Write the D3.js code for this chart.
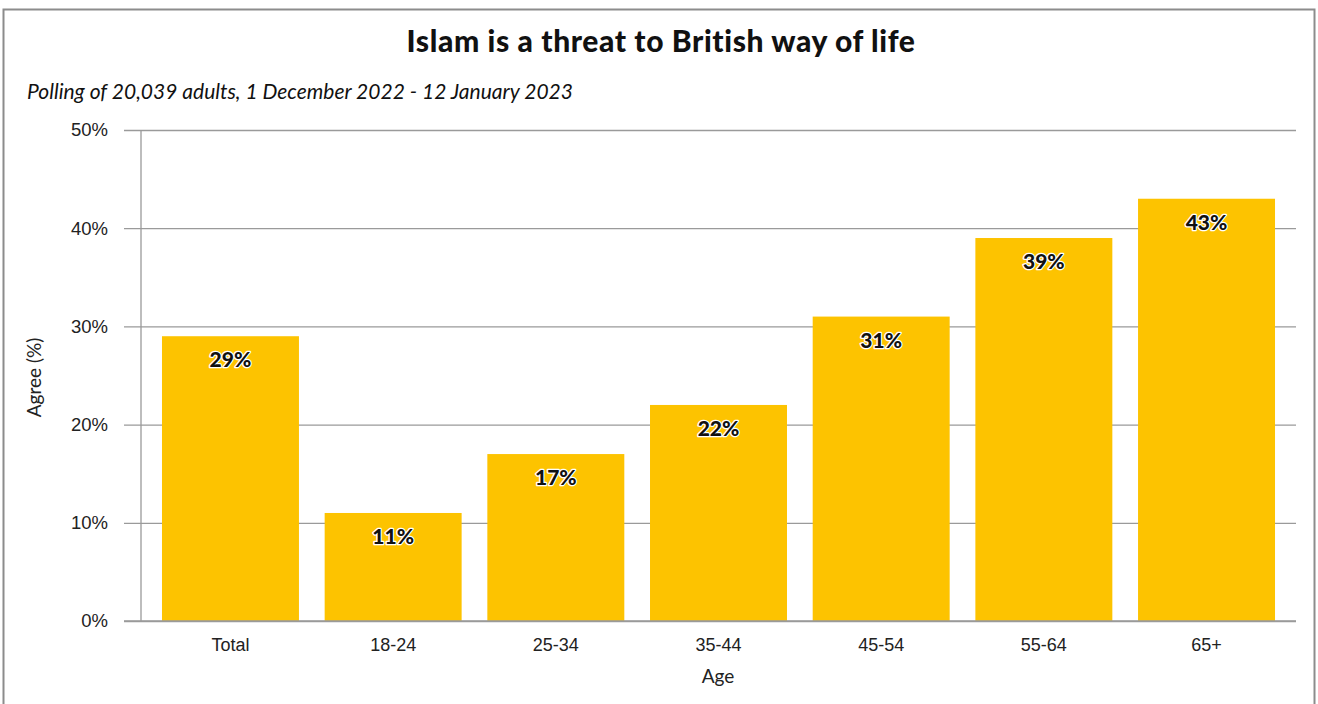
<!DOCTYPE html>
<html>
<head>
<meta charset="utf-8">
<script src="https://cdn.jsdelivr.net/npm/d3@7"></script>
<style>
  html, body { margin: 0; padding: 0; background: #fff; }
  svg { display: block; font-family: "Lato", "Noto Sans", sans-serif; }
</style>
</head>
<body>
<svg id="chart" width="1318" height="704"></svg>
<script>
// Share agreeing that Islam is a threat, by age group
const categories = ["Total", "18-24", "25-34", "35-44", "45-54", "55-64", "65+"];
const agreeValues = [29, 11, 17, 22, 31, 39, 43];
const yTicks = [0, 10, 20, 30, 40, 50];

const svg = d3.select("#chart");
const W = 1318, H = 704;

// outer frame
svg.append("rect")
  .attr("x", 3.5).attr("y", 9.5)
  .attr("width", W - 7).attr("height", H + 10)
  .attr("fill", "#fff").attr("stroke", "#8c8c8c").attr("stroke-width", 2);

const plot = { left: 141, right: 1296, top: 130, bottom: 621 };

const x = d3.scaleBand()
  .domain(categories)
  .range([plot.left, plot.right])
  .paddingInner(0.158)
  .paddingOuter(0.129);

const y = d3.scaleLinear()
  .domain([0, 50])
  .range([plot.bottom, plot.top]);

// horizontal gridlines with tick marks extending left
const yAxis = d3.axisLeft(y)
  .tickValues(yTicks)
  .tickFormat(d => d + "%")
  .tickSize(plot.right - plot.left + 17)
  .tickPadding(16);

const gy = svg.append("g")
  .attr("transform", `translate(${plot.right},0)`)
  .call(yAxis);
gy.select(".domain").remove();
gy.selectAll(".tick line").attr("stroke", "#9a9a9a").attr("stroke-width", 1.3);
gy.selectAll(".tick text")
  .attr("fill", "#222").attr("font-size", 18.5);

// vertical axis line
svg.append("line")
  .attr("x1", plot.left).attr("x2", plot.left)
  .attr("y1", plot.top).attr("y2", plot.bottom)
  .attr("stroke", "#9a9a9a").attr("stroke-width", 1.3);

// bars
svg.append("g").selectAll("rect")
  .data(categories)
  .join("rect")
  .attr("x", d => x(d))
  .attr("width", x.bandwidth())
  .attr("y", (d, i) => y(agreeValues[i]))
  .attr("height", (d, i) => y(0) - y(agreeValues[i]))
  .attr("fill", "#FDC300");

// baseline redrawn above bars
svg.append("line")
  .attr("x1", plot.left - 17).attr("x2", plot.right)
  .attr("y1", y(0)).attr("y2", y(0))
  .attr("stroke", "#9a9a9a").attr("stroke-width", 1.3);

// value labels inside bars
svg.append("g").selectAll("text")
  .data(categories)
  .join("text")
  .attr("x", d => x(d) + x.bandwidth() / 2)
  .attr("y", (d, i) => y(agreeValues[i]) + 31)
  .attr("text-anchor", "middle")
  .attr("font-size", 21)
  .attr("font-weight", 900)
  .attr("fill", "#111")
  .attr("stroke", "#fff")
  .attr("stroke-width", 2.5)
  .attr("stroke-linejoin", "round")
  .attr("paint-order", "stroke")
  .text((d, i) => agreeValues[i] + "%");

// category axis
const gx = svg.append("g")
  .attr("transform", `translate(0,${plot.bottom})`)
  .call(d3.axisBottom(x).tickSize(0).tickPadding(17));
gx.select(".domain").remove();
gx.selectAll(".tick text").attr("fill", "#222").attr("font-size", 18);

// axis titles
svg.append("text")
  .attr("x", (plot.left + plot.right) / 2 - 0.5)
  .attr("y", 683)
  .attr("text-anchor", "middle")
  .attr("font-size", 19).attr("fill", "#222")
  .text("Age");

svg.append("text")
  .attr("transform", `translate(41,${(plot.top + plot.bottom) / 2 + 2}) rotate(-90)`)
  .attr("text-anchor", "middle")
  .attr("font-size", 19).attr("fill", "#222")
  .text("Agree (%)");

// title and subtitle
svg.append("text")
  .attr("x", 661).attr("y", 52)
  .attr("text-anchor", "middle")
  .attr("font-size", 30).attr("font-weight", 900).attr("fill", "#111")
  .attr("letter-spacing", 0.6)
  .text("Islam is a threat to British way of life");

svg.append("text")
  .attr("x", 27).attr("y", 99)
  .attr("font-size", 21).attr("font-style", "italic").attr("fill", "#111")
  .text("Polling of 20,039 adults, 1 December 2022 - 12 January 2023");
</script>
</body>
</html>
